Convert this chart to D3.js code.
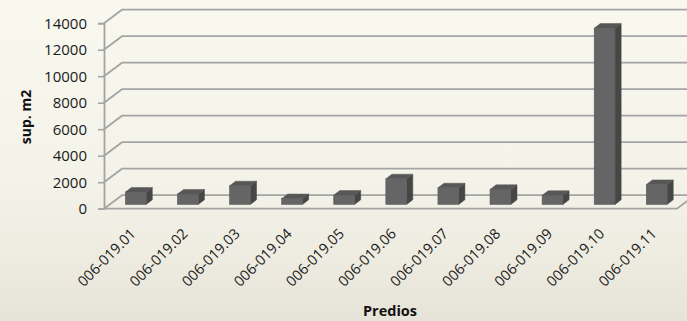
<!DOCTYPE html>
<html>
<head>
<meta charset="utf-8">
<script src="https://cdn.jsdelivr.net/npm/d3@7/dist/d3.min.js"></script>
<style>
html,body{margin:0;padding:0;background:#f5f4ea;}
svg{display:block;}
</style>
</head>
<body>
<svg id="chart" width="687" height="321"></svg>
<script>
const categories = ["006-019.01","006-019.02","006-019.03","006-019.04","006-019.05","006-019.06","006-019.07","006-019.08","006-019.09","006-019.10","006-019.11"];
const values = [930, 780, 1400, 430, 700, 1930, 1250, 1130, 680, 13300, 1500];
const yTicks = [0, 2000, 4000, 6000, 8000, 10000, 12000, 14000];
const yTitle = "sup. m2";
const xTitle = "Predios";

const W = 687, H = 321;
const svg = d3.select("#chart");

// background
const defs = svg.append("defs");
const bg = defs.append("linearGradient").attr("id","bg").attr("x1",0).attr("y1",0).attr("x2",0).attr("y2",1);
bg.append("stop").attr("offset","0%").attr("stop-color","#f8f8ef");
bg.append("stop").attr("offset","55%").attr("stop-color","#f4f3e9");
bg.append("stop").attr("offset","80%").attr("stop-color","#eeece1");
bg.append("stop").attr("offset","100%").attr("stop-color","#e6e3d8");
svg.append("rect").attr("width",W).attr("height",H).attr("fill","url(#bg)");

// geometry
const x0 = 104, x1 = 677;
const DX = 18, DY = -13.5;     // depth offset of back wall
const f0 = 0.32, f1 = 0.66;    // bar front/back depth fraction

const x = d3.scaleBand().domain(categories).range([x0, x1]).paddingInner(0.6).paddingOuter(0.3);
const y = d3.scaleLinear().domain([0, 14000]).range([208.7, 23.2]);

const font = "'Open Sans', 'Liberation Sans', sans-serif";

// gridlines (back wall + left side wall)
const grid = svg.append("g");
yTicks.forEach(v => {
  const yy = y(v);
  if (v === 0) return;
  grid.append("path")
    .attr("d", `M${x0},${yy} L${x0+DX},${yy+DY} L${W+5},${yy+DY}`)
    .attr("fill","none").attr("stroke","#a4a4a4").attr("stroke-width",1.8);
});
// floor
grid.append("path")
  .attr("d", `M${x0},${y(0)} L${x0+DX},${y(0)+DY} L${W+5},${y(0)+DY}`)
  .attr("fill","none").attr("stroke","#a4a4a4").attr("stroke-width",1.8);
grid.append("path")
  .attr("d", `M${x0},${y(0)} L${x1},${y(0)} L${x1+DX},${y(0)+DY}`)
  .attr("fill","none").attr("stroke","#a4a4a4").attr("stroke-width",1.8);

// y axis
const yAxis = d3.axisLeft(y).tickValues(yTicks).tickSize(6).tickPadding(11).tickFormat(d3.format("d"));
const ya = svg.append("g").attr("transform",`translate(${x0},0)`).call(yAxis);
ya.select(".domain").attr("stroke","#a4a4a4").attr("stroke-width",1.8);
ya.selectAll(".tick line").attr("stroke","#a4a4a4").attr("stroke-width",1.6);
ya.selectAll(".tick text").attr("font-family",font).attr("font-size","15px").attr("fill","#1a1a1a");

// bars
const bars = svg.append("g");
categories.forEach((c, i) => {
  const v = values[i];
  const bw = x.bandwidth();
  const fx = x(c) + f0*DX, fyB = y(0) + f0*DY, fyT = y(v) + f0*DY;
  const ddx = (f1-f0)*DX, ddy = (f1-f0)*DY;
  // side
  bars.append("path")
    .attr("d", `M${fx+bw},${fyB} L${fx+bw+ddx},${fyB+ddy} L${fx+bw+ddx},${fyT+ddy} L${fx+bw},${fyT} Z`)
    .attr("fill","#464646").attr("stroke","#464646").attr("stroke-width",0.5);
  // top
  bars.append("path")
    .attr("d", `M${fx},${fyT} L${fx+ddx},${fyT+ddy} L${fx+bw+ddx},${fyT+ddy} L${fx+bw},${fyT} Z`)
    .attr("fill","#575757").attr("stroke","#575757").attr("stroke-width",0.5);
  // front
  bars.append("rect")
    .attr("x", fx).attr("y", fyT).attr("width", bw).attr("height", fyB - fyT)
    .attr("fill","#656565").attr("stroke","#5a5a5a").attr("stroke-width",0.6);
});

// x labels
svg.append("g").selectAll("text").data(categories).join("text")
  .attr("transform", d => `translate(${x(d) + x.bandwidth()/2 + 3},${231}) rotate(-45)`)
  .attr("text-anchor","end")
  .attr("dy","0.35em")
  .attr("font-family",font).attr("font-size","14.5px").attr("fill","#1a1a1a")
  .text(d => d);

// titles
svg.append("text")
  .attr("transform","translate(31,117) rotate(-90)")
  .attr("text-anchor","middle")
  .attr("font-family",font).attr("font-weight","bold").attr("font-size","14px").attr("fill","#111")
  .text(yTitle);

svg.append("text")
  .attr("x",390).attr("y",316)
  .attr("text-anchor","middle")
  .attr("font-family",font).attr("font-weight","bold").attr("font-size","14.5px").attr("fill","#111")
  .text(xTitle);
</script>
</body>
</html>
